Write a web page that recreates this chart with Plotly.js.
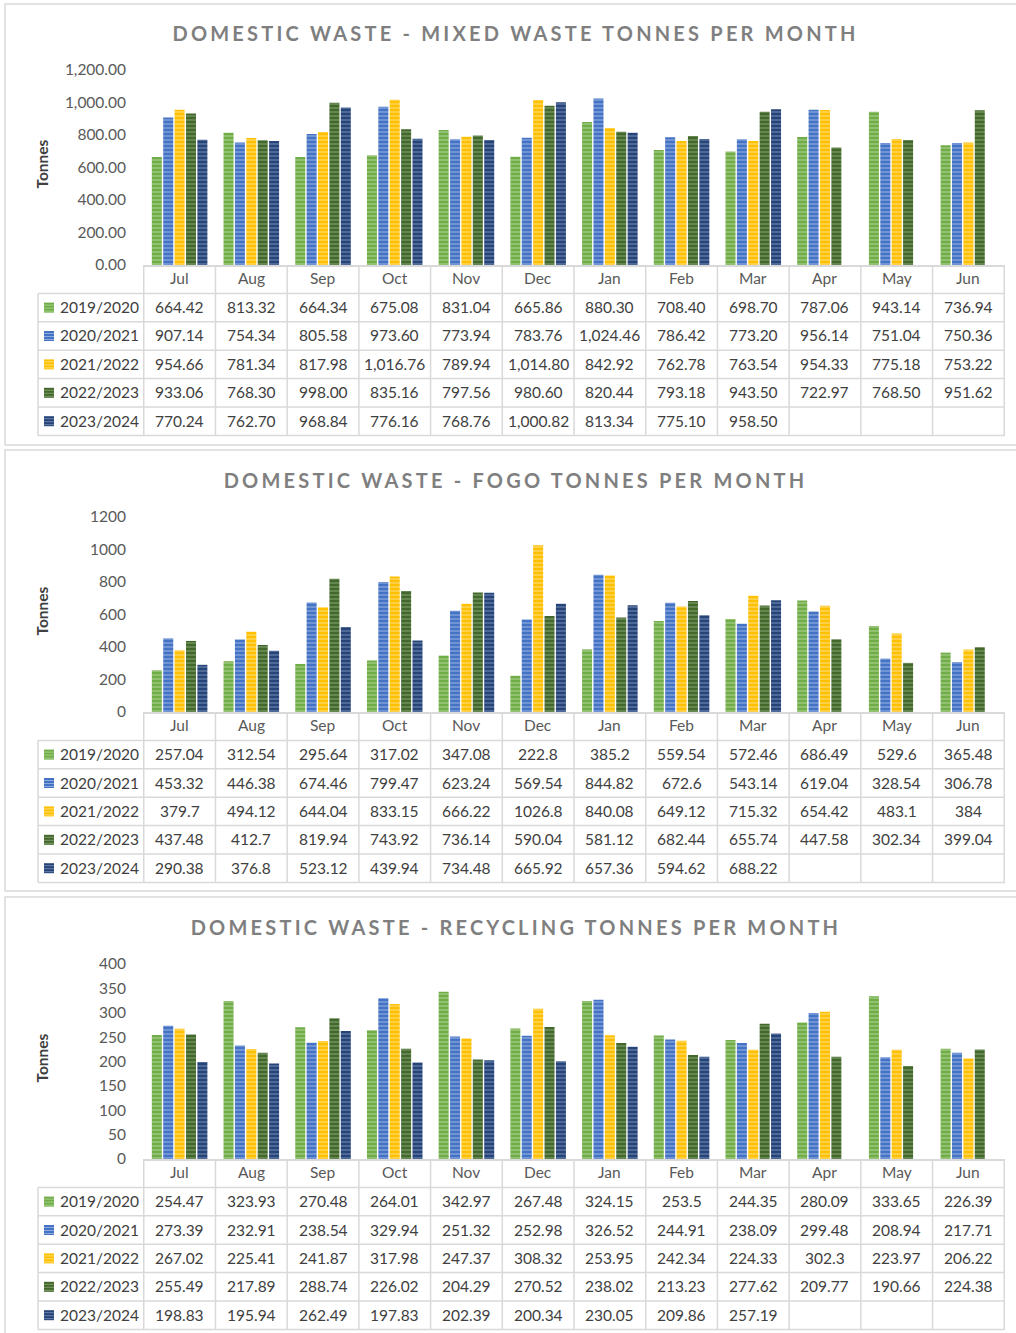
<!DOCTYPE html>
<html><head><meta charset="utf-8">
<script src="https://cdn.plot.ly/plotly-3.0.1.min.js"></script>
<style>body{margin:0;background:#fff}</style>
</head><body>
<div id="chart" style="width:1016px;height:1333px"></div>
<script>
// ---------- DATA ----------
const months = ["Jul","Aug","Sep","Oct","Nov","Dec","Jan","Feb","Mar","Apr","May","Jun"];
const seriesNames = ["2019/2020","2020/2021","2021/2022","2022/2023","2023/2024"];

const mixed_2019 = [664.42,813.32,664.34,675.08,831.04,665.86,880.30,708.40,698.70,787.06,943.14,736.94];
const mixed_2020 = [907.14,754.34,805.58,973.60,773.94,783.76,1024.46,786.42,773.20,956.14,751.04,750.36];
const mixed_2021 = [954.66,781.34,817.98,1016.76,789.94,1014.80,842.92,762.78,763.54,954.33,775.18,753.22];
const mixed_2022 = [933.06,768.30,998.00,835.16,797.56,980.60,820.44,793.18,943.50,722.97,768.50,951.62];
const mixed_2023 = [770.24,762.70,968.84,776.16,768.76,1000.82,813.34,775.10,958.50,null,null,null];

const fogo_2019 = [257.04,312.54,295.64,317.02,347.08,222.8,385.2,559.54,572.46,686.49,529.6,365.48];
const fogo_2020 = [453.32,446.38,674.46,799.47,623.24,569.54,844.82,672.6,543.14,619.04,328.54,306.78];
const fogo_2021 = [379.7,494.12,644.04,833.15,666.22,1026.8,840.08,649.12,715.32,654.42,483.1,384];
const fogo_2022 = [437.48,412.7,819.94,743.92,736.14,590.04,581.12,682.44,655.74,447.58,302.34,399.04];
const fogo_2023 = [290.38,376.8,523.12,439.94,734.48,665.92,657.36,594.62,688.22,null,null,null];

const recy_2019 = [254.47,323.93,270.48,264.01,342.97,267.48,324.15,253.5,244.35,280.09,333.65,226.39];
const recy_2020 = [273.39,232.91,238.54,329.94,251.32,252.98,326.52,244.91,238.09,299.48,208.94,217.71];
const recy_2021 = [267.02,225.41,241.87,317.98,247.37,308.32,253.95,242.34,224.33,302.3,223.97,206.22];
const recy_2022 = [255.49,217.89,288.74,226.02,204.29,270.52,238.02,213.23,277.62,209.77,190.66,224.38];
const recy_2023 = [198.83,195.94,262.49,197.83,202.39,200.34,230.05,209.86,257.19,null,null,null];

const titles = ["DOMESTIC WASTE - MIXED WASTE TONNES PER MONTH","DOMESTIC WASTE - FOGO TONNES PER MONTH","DOMESTIC WASTE - RECYCLING TONNES PER MONTH"];
const yTitle = "Tonnes";

// ---------- STYLE ----------
const colors = ["#70AD47","#4472C4","#FFC000","#43682B","#264478"];
const stripes = ["#a7cf8c","#8eaadf","#ffdc73","#7d9a6a","#6a82ad"];
const W = 1016, H = 1333;
const px = v => v / W, py = v => 1 - v / H;
const ROW = 28.4;
const FONT = "Lato, 'Open Sans', sans-serif";
const GRID = "#d9d9d9";

const charts = [
  {sfx:"", data:[mixed_2019,mixed_2020,mixed_2021,mixed_2022,mixed_2023], top:70, base:265, range:[0,1200], dtick:200, fmt:",.2f", titleY:33,
   cell:v => v.toLocaleString("en-US",{minimumFractionDigits:2,maximumFractionDigits:2}), panel:[4,445]},
  {sfx:"2", data:[fogo_2019,fogo_2020,fogo_2021,fogo_2022,fogo_2023], top:517, base:712, range:[0,1200], dtick:200, fmt:"d", titleY:480,
   cell:v => String(v), panel:[450,891]},
  {sfx:"3", data:[recy_2019,recy_2020,recy_2021,recy_2022,recy_2023], top:964, base:1159, range:[0,400], dtick:50, fmt:"d", titleY:927,
   cell:v => String(v), panel:[897,1345]}
];

const traces = [], shapes = [], annotations = [];
const layout = {
  width: W, height: H, margin:{l:0,r:0,t:0,b:0},
  paper_bgcolor:"#fff", plot_bgcolor:"#fff",
  barmode:"group", bargap:0.206, bargroupgap:0.12,
  font:{family:FONT, color:"#595959"}, showlegend:false
};

charts.forEach((c, ci) => {
  const xa = "x"+c.sfx, ya = "y"+c.sfx;
  c.data.forEach((arr, s) => {
    traces.push({type:"bar", x:months, y:arr, name:seriesNames[s], xaxis:xa, yaxis:ya,
      marker:{color:colors[s], line:{width:0},
        pattern:{shape:"-", fillmode:"replace", bgcolor:colors[s], fgcolor:stripes[s], size:4, solidity:0.3}},
      hoverinfo:"skip"});
  });
  layout["xaxis"+c.sfx] = {domain:[px(143),px(1005)], anchor:ya, type:"category", showticklabels:false, ticks:"",
    showline:true, linecolor:GRID, linewidth:2, showgrid:false, zeroline:false, fixedrange:true};
  layout["yaxis"+c.sfx] = {domain:[py(c.base),py(c.top)], anchor:xa, range:c.range, dtick:c.dtick, tickformat:c.fmt,
    showgrid:false, zeroline:false, showline:false, ticks:"", ticklabelstandoff:16,
    tickfont:{family:FONT,size:15.5,color:"#595959"}, fixedrange:true};

  // panel border
  shapes.push({type:"rect", xref:"paper", yref:"paper", x0:px(5), x1:px(1022), y0:py(c.panel[0]), y1:py(c.panel[1]),
    line:{color:GRID,width:1.5}, fillcolor:"rgba(0,0,0,0)", layer:"below"});

  const B = c.base, bottom = B + ROW*6;
  for (let i = 0; i <= months.length; i++) {
    shapes.push({type:"line", xref:xa, yref:"paper", x0:i-0.5, x1:i-0.5, y0:py(B), y1:py(bottom), line:{color:GRID,width:1.5}});
  }
  shapes.push({type:"line", xref:"paper", yref:"paper", x0:px(38), x1:px(38), y0:py(B+ROW), y1:py(bottom), line:{color:GRID,width:1.5}});
  for (let k = 1; k <= 6; k++) {
    shapes.push({type:"line", xref:"paper", yref:"paper", x0:px(38), x1:px(1005), y0:py(B+ROW*k), y1:py(B+ROW*k), line:{color:GRID,width:1.5}});
  }
  months.forEach(m => annotations.push({xref:xa, yref:"paper", x:m, y:py(B+ROW*0.5-1), text:m, showarrow:false,
    font:{family:FONT,size:15.5,color:"#595959"}, xanchor:"center", yanchor:"middle"}));
  c.data.forEach((arr, s) => {
    const cy = B + ROW*(s+1) + ROW/2;
    shapes.push({type:"rect", xref:"paper", yref:"paper", x0:px(44), x1:px(54), y0:py(cy-5), y1:py(cy+5),
      fillcolor:colors[s], line:{width:0}});
    [-2.5,0.5,3.5].forEach(o => shapes.push({type:"line", xref:"paper", yref:"paper", x0:px(44), x1:px(54), y0:py(cy+o), y1:py(cy+o),
      line:{color:stripes[s], width:1}}));
    annotations.push({xref:"paper", yref:"paper", x:px(58), y:py(cy-0.5), text:seriesNames[s], showarrow:false,
      xanchor:"left", yanchor:"middle", font:{family:FONT,size:15.5,color:"#404040"}});
    arr.forEach((v, i) => {
      if (v === null) return;
      annotations.push({xref:xa, yref:"paper", x:months[i], y:py(cy-0.5), text:c.cell(v), showarrow:false,
        xanchor:"center", yanchor:"middle", font:{family:FONT,size:15.5,color:"#404040"}});
    });
  });
  annotations.push({xref:"paper", yref:"paper", x:px(514), y:py(c.titleY), text:titles[ci], showarrow:false,
    xanchor:"center", yanchor:"middle", font:{family:FONT,size:20,color:"#7f7f7f",weight:700}});
  annotations.push({xref:"paper", yref:"paper", x:px(41), y:py((c.top+c.base)/2-3), text:yTitle, showarrow:false, textangle:-90,
    xanchor:"center", yanchor:"middle", font:{family:FONT,size:15.5,color:"#404040",weight:700}});
});
layout.shapes = shapes;
layout.annotations = annotations;

Plotly.newPlot("chart", traces, layout, {staticPlot:true, displayModeBar:false}).then(gd => {
  const texts = Array.from(gd.querySelectorAll("text.annotation-text")).filter(t => t.textContent.indexOf("DOMESTIC") === 0);
  if (!texts.length) return;
  const t0 = texts[0];
  const w0 = t0.getComputedTextLength();
  const sp = (683 - w0) / (t0.textContent.length - 1);
  texts.forEach(t => {
    const b0 = t.getBBox();
    const c0 = b0.x + b0.width/2;
    t.style.letterSpacing = sp + "px";
    const b1 = t.getBBox();
    const c1 = b1.x + (b1.width - sp)/2;
    const ex = t.getAttribute("transform") || "";
    t.setAttribute("transform", "translate(" + (c0 - c1) + ",0) " + ex);
  });
});
</script>
</body></html>
